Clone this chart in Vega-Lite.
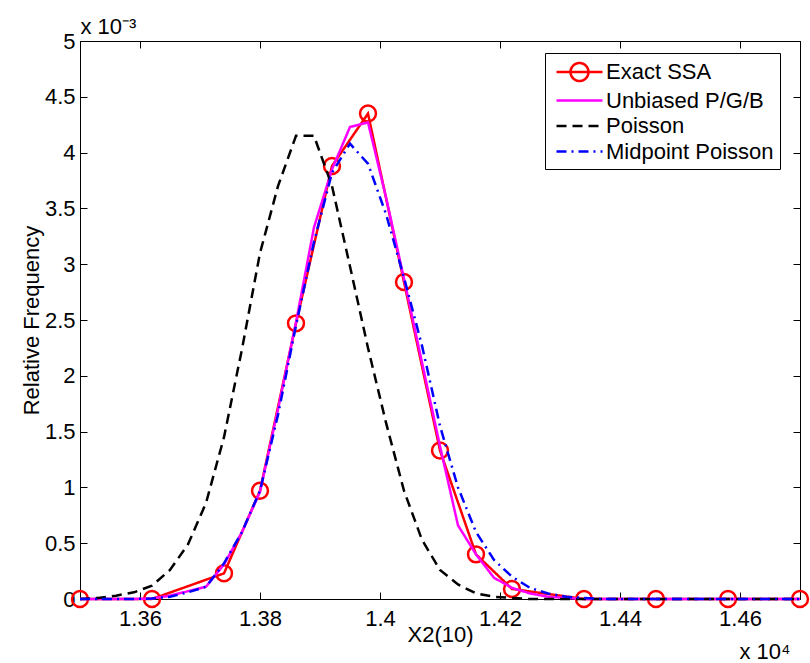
{
  "$schema": "https://vega.github.io/schema/vega-lite/v6.json",
  "width": 720,
  "height": 558,
  "autosize": "none",
  "padding": {"left": 80, "top": 41, "right": 10, "bottom": 64},
  "background": "white",
  "config": {
    "view": {"stroke": "black", "strokeWidth": 1},
    "font": "Liberation Sans",
    "axis": {"domainColor": "black", "tickColor": "black", "labelColor": "black", "titleColor": "black", "grid": false, "labelFont": "Liberation Sans", "titleFont": "Liberation Sans", "titleFontWeight": "normal", "labelFontSize": 22, "titleFontSize": 22, "tickSize": -7, "labelFlush": false, "labelOverlap": false}
  },
  "data": {"values": [
    {"s": "Exact SSA", "x": 13500, "y": 0},
    {"s": "Exact SSA", "x": 13620, "y": 0},
    {"s": "Exact SSA", "x": 13740, "y": 0.00023},
    {"s": "Exact SSA", "x": 13800, "y": 0.00097},
    {"s": "Exact SSA", "x": 13860, "y": 0.00247},
    {"s": "Exact SSA", "x": 13920, "y": 0.00388},
    {"s": "Exact SSA", "x": 13980, "y": 0.00435},
    {"s": "Exact SSA", "x": 14040, "y": 0.00284},
    {"s": "Exact SSA", "x": 14100, "y": 0.00133},
    {"s": "Exact SSA", "x": 14160, "y": 0.0004},
    {"s": "Exact SSA", "x": 14220, "y": 0.00009},
    {"s": "Exact SSA", "x": 14340, "y": 0},
    {"s": "Exact SSA", "x": 14460, "y": 0},
    {"s": "Exact SSA", "x": 14580, "y": 0},
    {"s": "Exact SSA", "x": 14700, "y": 0},

    {"s": "Unbiased P/G/B", "x": 13500, "y": 0},
    {"s": "Unbiased P/G/B", "x": 13530, "y": 0},
    {"s": "Unbiased P/G/B", "x": 13560, "y": 0},
    {"s": "Unbiased P/G/B", "x": 13590, "y": 0},
    {"s": "Unbiased P/G/B", "x": 13620, "y": 0.000005},
    {"s": "Unbiased P/G/B", "x": 13650, "y": 0.00003},
    {"s": "Unbiased P/G/B", "x": 13680, "y": 0.00007},
    {"s": "Unbiased P/G/B", "x": 13710, "y": 0.00011},
    {"s": "Unbiased P/G/B", "x": 13740, "y": 0.00031},
    {"s": "Unbiased P/G/B", "x": 13770, "y": 0.0006},
    {"s": "Unbiased P/G/B", "x": 13800, "y": 0.00096},
    {"s": "Unbiased P/G/B", "x": 13830, "y": 0.0017},
    {"s": "Unbiased P/G/B", "x": 13860, "y": 0.00248},
    {"s": "Unbiased P/G/B", "x": 13890, "y": 0.00333},
    {"s": "Unbiased P/G/B", "x": 13920, "y": 0.00385},
    {"s": "Unbiased P/G/B", "x": 13950, "y": 0.00423},
    {"s": "Unbiased P/G/B", "x": 13980, "y": 0.00427},
    {"s": "Unbiased P/G/B", "x": 14010, "y": 0.0036},
    {"s": "Unbiased P/G/B", "x": 14040, "y": 0.00287},
    {"s": "Unbiased P/G/B", "x": 14070, "y": 0.00212},
    {"s": "Unbiased P/G/B", "x": 14100, "y": 0.00137},
    {"s": "Unbiased P/G/B", "x": 14130, "y": 0.00066},
    {"s": "Unbiased P/G/B", "x": 14160, "y": 0.0004},
    {"s": "Unbiased P/G/B", "x": 14190, "y": 0.00019},
    {"s": "Unbiased P/G/B", "x": 14220, "y": 0.0001},
    {"s": "Unbiased P/G/B", "x": 14250, "y": 0.00005},
    {"s": "Unbiased P/G/B", "x": 14280, "y": 0.00002},
    {"s": "Unbiased P/G/B", "x": 14310, "y": 0.00001},
    {"s": "Unbiased P/G/B", "x": 14340, "y": 0},
    {"s": "Unbiased P/G/B", "x": 14370, "y": 0},
    {"s": "Unbiased P/G/B", "x": 14400, "y": 0},
    {"s": "Unbiased P/G/B", "x": 14430, "y": 0},
    {"s": "Unbiased P/G/B", "x": 14460, "y": 0},
    {"s": "Unbiased P/G/B", "x": 14490, "y": 0},
    {"s": "Unbiased P/G/B", "x": 14520, "y": 0},
    {"s": "Unbiased P/G/B", "x": 14550, "y": 0},
    {"s": "Unbiased P/G/B", "x": 14580, "y": 0},
    {"s": "Unbiased P/G/B", "x": 14610, "y": 0},
    {"s": "Unbiased P/G/B", "x": 14640, "y": 0},
    {"s": "Unbiased P/G/B", "x": 14670, "y": 0},
    {"s": "Unbiased P/G/B", "x": 14700, "y": 0},

    {"s": "Poisson", "x": 13500, "y": 0},
    {"s": "Poisson", "x": 13530, "y": 0.00001},
    {"s": "Poisson", "x": 13560, "y": 0.00003},
    {"s": "Poisson", "x": 13590, "y": 0.00006},
    {"s": "Poisson", "x": 13620, "y": 0.00012},
    {"s": "Poisson", "x": 13650, "y": 0.00026},
    {"s": "Poisson", "x": 13680, "y": 0.00049},
    {"s": "Poisson", "x": 13710, "y": 0.00086},
    {"s": "Poisson", "x": 13740, "y": 0.00145},
    {"s": "Poisson", "x": 13770, "y": 0.00224},
    {"s": "Poisson", "x": 13800, "y": 0.0031},
    {"s": "Poisson", "x": 13830, "y": 0.0037},
    {"s": "Poisson", "x": 13860, "y": 0.00415},
    {"s": "Poisson", "x": 13890, "y": 0.00415},
    {"s": "Poisson", "x": 13920, "y": 0.0037},
    {"s": "Poisson", "x": 13950, "y": 0.00298},
    {"s": "Poisson", "x": 13980, "y": 0.00225},
    {"s": "Poisson", "x": 14010, "y": 0.00158},
    {"s": "Poisson", "x": 14040, "y": 0.00097},
    {"s": "Poisson", "x": 14070, "y": 0.00053},
    {"s": "Poisson", "x": 14100, "y": 0.00026},
    {"s": "Poisson", "x": 14130, "y": 0.00013},
    {"s": "Poisson", "x": 14160, "y": 0.00005},
    {"s": "Poisson", "x": 14190, "y": 0.00002},
    {"s": "Poisson", "x": 14220, "y": 0.00001},
    {"s": "Poisson", "x": 14250, "y": 0},
    {"s": "Poisson", "x": 14280, "y": 0},
    {"s": "Poisson", "x": 14310, "y": 0},
    {"s": "Poisson", "x": 14340, "y": 0},
    {"s": "Poisson", "x": 14370, "y": 0},
    {"s": "Poisson", "x": 14400, "y": 0},
    {"s": "Poisson", "x": 14430, "y": 0},
    {"s": "Poisson", "x": 14460, "y": 0},
    {"s": "Poisson", "x": 14490, "y": 0},
    {"s": "Poisson", "x": 14520, "y": 0},
    {"s": "Poisson", "x": 14550, "y": 0},
    {"s": "Poisson", "x": 14580, "y": 0},
    {"s": "Poisson", "x": 14610, "y": 0},
    {"s": "Poisson", "x": 14640, "y": 0},
    {"s": "Poisson", "x": 14670, "y": 0},
    {"s": "Poisson", "x": 14700, "y": 0},

    {"s": "Midpoint Poisson", "x": 13500, "y": 0},
    {"s": "Midpoint Poisson", "x": 13530, "y": 0},
    {"s": "Midpoint Poisson", "x": 13560, "y": 0},
    {"s": "Midpoint Poisson", "x": 13590, "y": 0},
    {"s": "Midpoint Poisson", "x": 13620, "y": 0.000005},
    {"s": "Midpoint Poisson", "x": 13650, "y": 0.00002},
    {"s": "Midpoint Poisson", "x": 13680, "y": 0.00006},
    {"s": "Midpoint Poisson", "x": 13710, "y": 0.00011},
    {"s": "Midpoint Poisson", "x": 13740, "y": 0.00032},
    {"s": "Midpoint Poisson", "x": 13770, "y": 0.0006},
    {"s": "Midpoint Poisson", "x": 13800, "y": 0.00097},
    {"s": "Midpoint Poisson", "x": 13830, "y": 0.00165},
    {"s": "Midpoint Poisson", "x": 13860, "y": 0.00245},
    {"s": "Midpoint Poisson", "x": 13890, "y": 0.0032},
    {"s": "Midpoint Poisson", "x": 13920, "y": 0.00382},
    {"s": "Midpoint Poisson", "x": 13950, "y": 0.00408},
    {"s": "Midpoint Poisson", "x": 13980, "y": 0.0039},
    {"s": "Midpoint Poisson", "x": 14010, "y": 0.00345},
    {"s": "Midpoint Poisson", "x": 14040, "y": 0.00288},
    {"s": "Midpoint Poisson", "x": 14070, "y": 0.00227},
    {"s": "Midpoint Poisson", "x": 14100, "y": 0.00155},
    {"s": "Midpoint Poisson", "x": 14130, "y": 0.001},
    {"s": "Midpoint Poisson", "x": 14160, "y": 0.0006},
    {"s": "Midpoint Poisson", "x": 14190, "y": 0.00035},
    {"s": "Midpoint Poisson", "x": 14220, "y": 0.0002},
    {"s": "Midpoint Poisson", "x": 14250, "y": 0.0001},
    {"s": "Midpoint Poisson", "x": 14280, "y": 0.00005},
    {"s": "Midpoint Poisson", "x": 14310, "y": 0.00002},
    {"s": "Midpoint Poisson", "x": 14340, "y": 0.00001},
    {"s": "Midpoint Poisson", "x": 14370, "y": 0},
    {"s": "Midpoint Poisson", "x": 14400, "y": 0},
    {"s": "Midpoint Poisson", "x": 14430, "y": 0},
    {"s": "Midpoint Poisson", "x": 14460, "y": 0},
    {"s": "Midpoint Poisson", "x": 14490, "y": 0},
    {"s": "Midpoint Poisson", "x": 14520, "y": 0},
    {"s": "Midpoint Poisson", "x": 14550, "y": 0},
    {"s": "Midpoint Poisson", "x": 14580, "y": 0},
    {"s": "Midpoint Poisson", "x": 14610, "y": 0},
    {"s": "Midpoint Poisson", "x": 14640, "y": 0},
    {"s": "Midpoint Poisson", "x": 14670, "y": 0},
    {"s": "Midpoint Poisson", "x": 14700, "y": 0}
  ]},
  "layer": [
    {
      "transform": [{"filter": "datum.s === 'Exact SSA'"}],
      "mark": {"type": "point", "shape": "circle", "filled": false, "size": 254, "strokeWidth": 2.5, "color": "#ff0000", "opacity": 1, "clip": false},
      "encoding": {
        "x": {"field": "x", "type": "quantitative", "scale": {"domain": [13500, 14700], "nice": false, "zero": false},
              "axis": {"orient": "top", "values": [13600, 13800, 14000, 14200, 14400, 14600], "labels": false,
                       "title": "x 10⁻³", "titleAlign": "left", "titleAnchor": "start", "titleBaseline": "alphabetic", "titleX": 0, "titleY": -8}},
        "y": {"field": "y", "type": "quantitative", "scale": {"domain": [0, 0.005], "nice": false},
              "axis": {"orient": "right", "values": [0, 0.0005, 0.001, 0.0015, 0.002, 0.0025, 0.003, 0.0035, 0.004, 0.0045, 0.005], "labels": false,
                       "title": "x 10⁴", "titleAngle": 0, "titleAlign": "right", "titleBaseline": "alphabetic", "titleX": -10, "titleY": 617}}
      }
    },
    {
      "mark": {"type": "line", "strokeWidth": 2.5, "clip": false},
      "encoding": {
        "x": {"field": "x", "type": "quantitative",
              "axis": {"orient": "bottom", "values": [13600, 13800, 14000, 14200, 14400, 14600], "labelExpr": "format(datum.value/10000, '~g')", "labelPadding": 16,
                       "title": "X2(10)", "titleBaseline": "alphabetic", "titleY": 42}},
        "y": {"field": "y", "type": "quantitative",
              "axis": {"orient": "left", "values": [0, 0.0005, 0.001, 0.0015, 0.002, 0.0025, 0.003, 0.0035, 0.004, 0.0045, 0.005], "labelExpr": "format(datum.value*1000, '~g')", "labelPadding": 12,
                       "title": "Relative Frequency", "titleBaseline": "alphabetic", "titleX": -42, "titleY": 279}},
        "color": {"field": "s", "type": "nominal",
                  "scale": {"domain": ["Exact SSA", "Unbiased P/G/B", "Poisson", "Midpoint Poisson"], "range": ["#ff0000", "#ff00ff", "#000000", "#0000ff"]},
                  "legend": {"orient": "none", "legendX": 465, "legendY": 12, "title": null, "strokeColor": "black", "fillColor": "white", "padding": 6,
                             "labelFontSize": 22, "labelFont": "Liberation Sans", "labelColor": "black", "labelLimit": 400, "symbolSize": 529, "symbolStrokeWidth": 2.5,
                             "symbolOffset": 15.5, "labelOffset": 13.5, "rowPadding": 1.5, "cornerRadius": 0,
                             "encode": {"symbols": {"update": {"shape": {"signal": "datum.value === 'Exact SSA' ? 'M-2,0L2,0M0.78,0A0.78,0.78,0,1,1,-0.78,0A0.78,0.78,0,1,1,0.78,0' : 'M-2,0L2,0'"}, "fill": {"value": "transparent"}}}}}},
        "strokeDash": {"field": "s", "type": "nominal",
                       "scale": {"domain": ["Exact SSA", "Unbiased P/G/B", "Poisson", "Midpoint Poisson"], "range": [[1, 0], [1, 0], [10, 6], [10, 5, 2, 5]]},
                       "legend": {"orient": "none", "legendX": 465, "legendY": 12, "title": null}}
      }
    }
  ],
  "resolve": {"axis": {"x": "independent", "y": "independent"}}
}
